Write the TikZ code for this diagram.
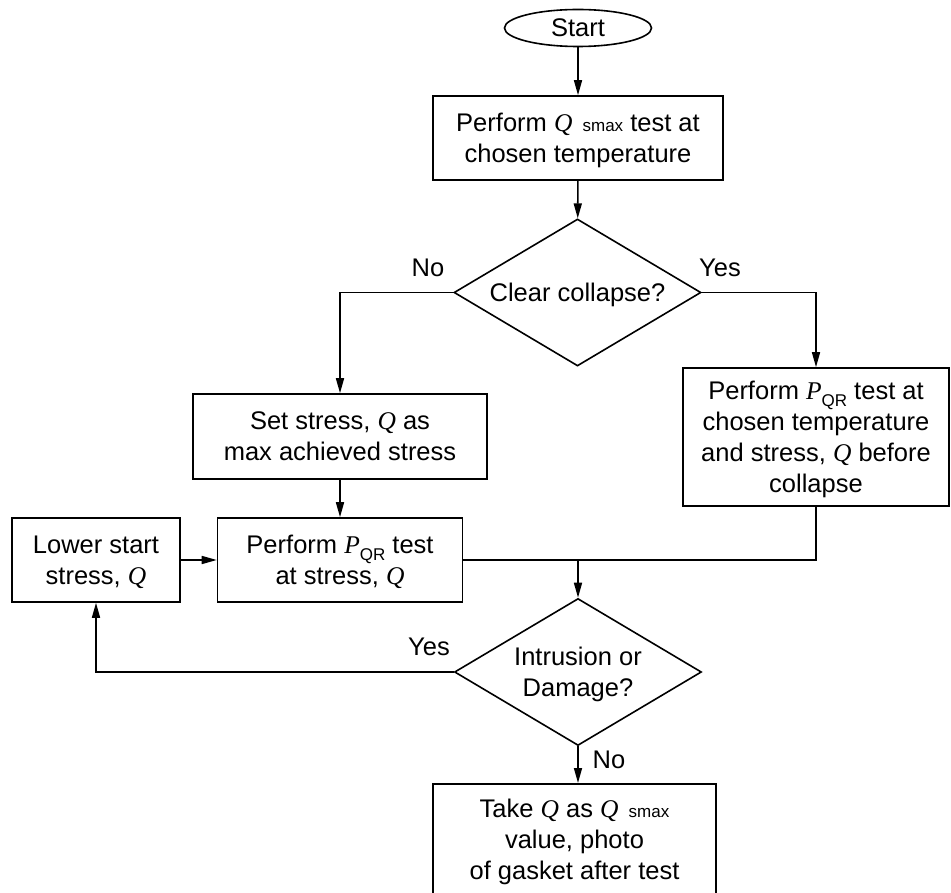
\documentclass[tikz,border=0pt]{standalone}
\usepackage{fontspec}
\setmainfont{Liberation Sans}
\newfontfamily\qfont{Liberation Serif}
\usetikzlibrary{shapes.geometric,arrows.meta}
\newcommand\Qit{{\qfont\itshape Q}}
\newcommand\Pit{{\qfont\itshape P}}
\newcommand\Qsmax{\Qit\hspace{0.4em}{\fontsize{17}{17}\selectfont smax}}
\newcommand\PQR{\Pit\raisebox{-7pt}{\fontsize{17}{17}\selectfont QR}}
\begin{document}
\begin{tikzpicture}[x=1pt,y=-1pt,line width=1.6pt,
  every node/.style={font=\fontsize{25.5}{31}\selectfont},
  box/.style={draw,rectangle,align=center,inner sep=0pt,text depth=0pt},
  dec/.style={draw,diamond,aspect=1.68,inner sep=0pt,minimum width=247pt,minimum height=147pt,align=center,text depth=0pt},
  arr/.style={-{Triangle[length=15pt,width=8pt]}},
  lbl/.style={inner sep=0pt}]
\useasboundingbox (0,0) rectangle (951,893);
\fill[white] (0,0) rectangle (951,893);

\node[draw,ellipse,inner sep=0pt,minimum width=147pt,minimum height=37pt] (start) at (578,28) {Start};
\node[box,minimum width=290pt,minimum height=84pt] (b1) at (578,138) {Perform \Qsmax\ test at\\chosen temperature};
\node[dec] (d1) at (577.5,292.5) {Clear collapse?};
\node[box,minimum width=294pt,minimum height=85pt] (b2) at (340,436.5) {Set stress, \Qit\ as\\max achieved stress};
\node[box,minimum width=266pt,minimum height=138pt] (b3) at (816,437) {Perform \PQR\ test at\\chosen temperature\\and stress, \Qit\ before\\collapse};
\node[box,minimum width=168pt,minimum height=84pt] (b4) at (96,560) {Lower start\\stress, \Qit};
\node[box,minimum width=245pt,minimum height=84pt] (b5) at (340,560) {Perform \PQR\ test\\at stress, \Qit};
\node[dec] (d2) at (578,672) {Intrusion or\\Damage?};
\node[box,anchor=north,minimum width=283pt,inner ysep=15pt,text depth=12pt] (b6) at (574.5,783) {Take \Qit\ as \Qsmax\\value, photo\\of gasket after test};

\node[lbl] (no1) at (428,268) {No};
\node[lbl] (yes1) at (720,268) {Yes};
\node[lbl] (yes2) at (429,647) {Yes};
\node[lbl] (no2) at (609,760) {No};

\coordinate (m) at (578,560);
\draw[arr] (start) -- (b1);
\draw[arr] (b1) -- (d1);
\draw[arr] (d1.west) -| (b2.north);
\draw[arr] (d1.east) -| (b3.north);
\draw[arr] (b2) -- (b5);
\draw[arr] (b4) -- (b5);
\draw (b5.east) -- (m);
\draw (b3.south) |- (m);
\draw[arr] (m) -- (d2.north);
\draw[arr] (d2.west) -| (b4.south);
\draw[arr] (d2.south) -- (d2.south |- b6.north);
\end{tikzpicture}
\end{document}
